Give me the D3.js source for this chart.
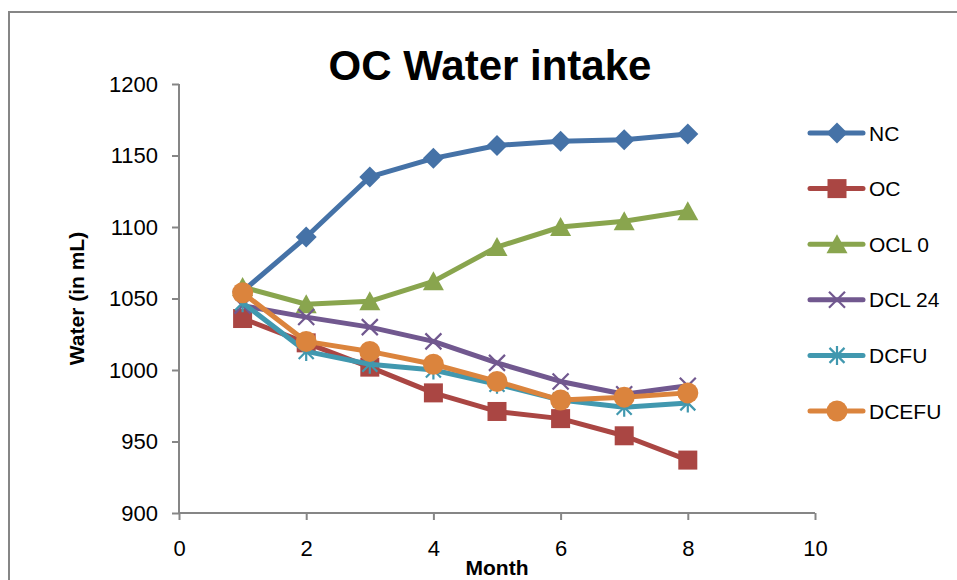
<!DOCTYPE html>
<html>
<head>
<meta charset="utf-8">
<script src="https://cdn.jsdelivr.net/npm/d3@7"></script>
<style>
  html, body { margin: 0; padding: 0; background: #fff; }
  svg { display: block; font-family: "Liberation Sans", Arial, sans-serif; }
</style>
</head>
<body>
<svg id="chart" width="957" height="580"></svg>
<script>
// Monthly water intake (mL) for each group
const months = [1, 2, 3, 4, 5, 6, 7, 8];
const seriesNames = ["NC", "OC", "OCL 0", "DCL 24", "DCFU", "DCEFU"];
const ncValues    = [1055, 1093, 1135, 1148, 1157, 1160, 1161, 1165];
const ocValues    = [1036, 1019, 1002, 984, 971, 966, 954, 937];
const ocl0Values  = [1058, 1046, 1048, 1062, 1086, 1100, 1104, 1111];
const dcl24Values = [1045, 1037, 1030, 1020, 1005, 992, 983, 989];
const dcfuValues  = [1047, 1013, 1004, 1000, 990, 979, 974, 977];
const dcefuValues = [1054, 1020, 1013, 1004, 992, 979, 981, 984];
const xTicks = [0, 2, 4, 6, 8, 10];
const yTicks = [900, 950, 1000, 1050, 1100, 1150, 1200];

const colors = ["#4572A7", "#AA4643", "#89A54E", "#71588F", "#4198AF", "#DB843D"];
const markerKinds = ["diamond", "square", "triangle", "cross", "star", "circle"];
const valueSets = [ncValues, ocValues, ocl0Values, dcl24Values, dcfuValues, dcefuValues];

const series = seriesNames.map((name, i) => ({
  name, color: colors[i], marker: markerKinds[i],
  points: months.map((m, j) => ({ x: m, y: valueSets[i][j] }))
}));

const svg = d3.select("#chart");
const axisColor = "#868686";

// chart area frame
svg.append("rect")
  .attr("x", 9).attr("y", 12).attr("width", 980).attr("height", 600)
  .attr("fill", "#fff").attr("stroke", axisColor).attr("stroke-width", 2);

const plot = { left: 179, right: 815, top: 84, bottom: 513 };
const x = d3.scaleLinear().domain([0, 10]).range([plot.left, plot.right]);
const y = d3.scaleLinear().domain([900, 1200]).range([plot.bottom, plot.top]);

// title
svg.append("text")
  .attr("x", 490).attr("y", 80)
  .attr("text-anchor", "middle")
  .attr("font-weight", "bold").attr("font-size", 42)
  .text("OC Water intake");

// y axis
const yAxis = svg.append("g")
  .attr("transform", `translate(${plot.left},0)`)
  .call(d3.axisLeft(y).tickValues(yTicks).tickSize(7).tickPadding(14).tickFormat(d3.format("d")));
yAxis.select(".domain").attr("stroke", axisColor).attr("stroke-width", 2);
yAxis.selectAll(".tick line").attr("stroke", axisColor).attr("stroke-width", 2);
yAxis.selectAll(".tick text").attr("font-size", 22).attr("fill", "#000")
  .attr("font-family", "Liberation Sans, Arial, sans-serif");

// x axis
const xAxis = svg.append("g")
  .attr("transform", `translate(0,${plot.bottom})`)
  .call(d3.axisBottom(x).tickValues(xTicks).tickSize(7).tickPadding(20).tickFormat(d3.format("d")));
xAxis.select(".domain").attr("stroke", axisColor).attr("stroke-width", 2);
xAxis.selectAll(".tick line").attr("stroke", axisColor).attr("stroke-width", 2);
xAxis.selectAll(".tick text").attr("font-size", 22).attr("fill", "#000")
  .attr("font-family", "Liberation Sans, Arial, sans-serif");
// straight domain lines without end caps
yAxis.select(".domain").attr("d", `M0,${plot.top}V${plot.bottom}`);
xAxis.select(".domain").attr("d", `M${plot.left},0H${plot.right}`);

// axis titles
svg.append("text")
  .attr("transform", `translate(84,${(plot.top + plot.bottom) / 2}) rotate(-90)`)
  .attr("text-anchor", "middle")
  .attr("font-weight", "bold").attr("font-size", 21)
  .text("Water (in mL)");

svg.append("text")
  .attr("x", (plot.left + plot.right) / 2).attr("y", 575)
  .attr("text-anchor", "middle")
  .attr("font-weight", "bold").attr("font-size", 21)
  .text("Month");

// marker drawing
function drawMarker(g, kind, color, cx, cy) {
  const m = g.append("g").attr("transform", `translate(${cx},${cy})`);
  switch (kind) {
    case "diamond":
      m.append("path").attr("d", "M0,-10.5L10.5,0L0,10.5L-10.5,0Z").attr("fill", color);
      break;
    case "square":
      m.append("rect").attr("x", -9.5).attr("y", -9.5).attr("width", 19).attr("height", 19).attr("fill", color);
      break;
    case "triangle":
      m.append("path").attr("d", "M0,-10L10.5,9L-10.5,9Z").attr("fill", color);
      break;
    case "cross":
      m.append("path").attr("d", "M-8,-8L8,8M8,-8L-8,8")
        .attr("stroke", color).attr("stroke-width", 2.2).attr("fill", "none");
      break;
    case "star":
      m.append("path").attr("d", "M-7.5,-7.5L7.5,7.5M7.5,-7.5L-7.5,7.5M0,-9.5L0,9.5")
        .attr("stroke", color).attr("stroke-width", 2.2).attr("fill", "none");
      break;
    case "circle":
      m.append("circle").attr("r", 10.5).attr("fill", color);
      break;
  }
}

const line = d3.line().x(d => x(d.x)).y(d => y(d.y));

const plotG = svg.append("g");
series.forEach(s => {
  const g = plotG.append("g");
  g.append("path")
    .attr("d", line(s.points))
    .attr("fill", "none").attr("stroke", s.color)
    .attr("stroke-width", 5).attr("stroke-linejoin", "round").attr("stroke-linecap", "round");
  s.points.forEach(p => drawMarker(g, s.marker, s.color, x(p.x), y(p.y)));
});

// legend
const legendY = d3.scalePoint().domain(seriesNames).range([133, 411]);
const legend = svg.append("g");
series.forEach(s => {
  const ly = legendY(s.name);
  const g = legend.append("g");
  g.append("line")
    .attr("x1", 810).attr("x2", 863).attr("y1", ly).attr("y2", ly)
    .attr("stroke", s.color).attr("stroke-width", 5).attr("stroke-linecap", "round");
  drawMarker(g, s.marker, s.color, 837, ly);
  g.append("text")
    .attr("x", 869).attr("y", ly + 7.5)
    .attr("font-size", 21).attr("fill", "#000")
    .text(s.name);
});
</script>
</body>
</html>
